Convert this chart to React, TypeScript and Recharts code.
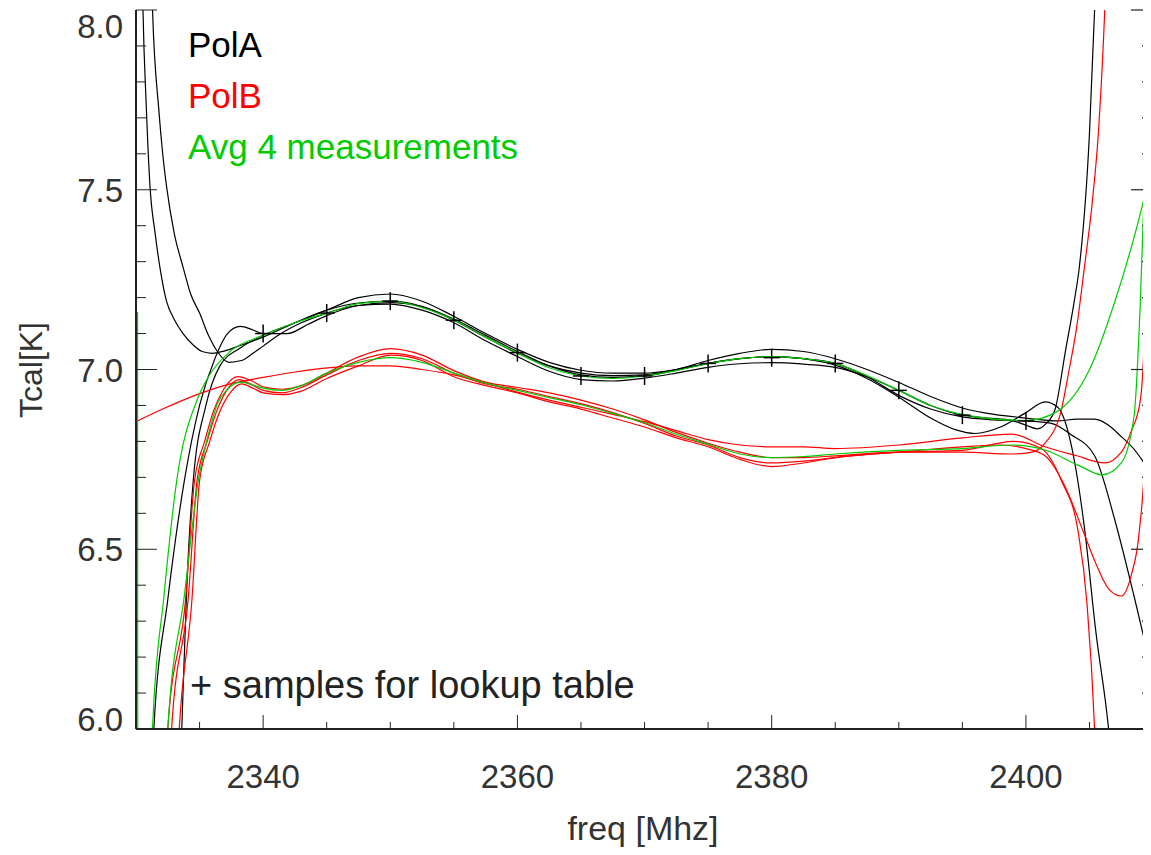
import { ComposedChart, Line, Scatter, XAxis, YAxis } from 'recharts'

type Pt = [number, number]

// frequency ticks every 5 MHz (labels every 20), Tcal ticks every 0.1 K (labels every 0.5)
// the original frame is cut just short of 2410 MHz on the right
const freqDomain = [2330, 2409.6]
const freqTicks = [2330, 2335, 2340, 2345, 2350, 2355, 2360, 2365, 2370, 2375, 2380, 2385, 2390, 2395, 2400, 2405]
const tcalTicks = [6.0, 6.1, 6.2, 6.3, 6.4, 6.5, 6.6, 6.7, 6.8, 6.9, 7.0, 7.1, 7.2, 7.3, 7.4, 7.5, 7.6, 7.7, 7.8, 7.9, 8.0]
const freqLabels = [2340, 2360, 2380, 2400]
const tcalLabels = [6.0, 6.5, 7.0, 7.5, 8.0]

// PolA, 4 measurements
const polA1: Pt[] = [[2330.3, 8.6], [2330.55, 8.0], [2330.8, 7.74], [2331.1, 7.51], [2331.5, 7.38], [2331.9, 7.28], [2332.4, 7.19], [2333, 7.14], [2333.7, 7.1], [2334.5, 7.068], [2335.2, 7.05], [2336, 7.045], [2337, 7.052], [2338.3, 7.068], [2340, 7.09], [2342.5, 7.13], [2345, 7.165], [2347.5, 7.185], [2350, 7.19], [2352.5, 7.175], [2355, 7.137], [2357.5, 7.09], [2360, 7.045], [2362.5, 7.01], [2365, 6.99], [2367.5, 6.983], [2370, 6.985], [2372.5, 7.0], [2375, 7.025], [2377.5, 7.045], [2380, 7.056], [2382.5, 7.05], [2385, 7.03], [2387.5, 7.0], [2390, 6.964], [2392.5, 6.925], [2395, 6.893], [2397.5, 6.875], [2400, 6.865], [2402.5, 6.857], [2404, 6.862], [2405.4, 6.862], [2406.5, 6.845], [2407.3, 6.82], [2408.9, 6.76], [2410, 6.69], [2410.5, 6.63]]
const polA2: Pt[] = [[2330.9, 8.6], [2331.3, 8.0], [2331.8, 7.72], [2332.1, 7.6], [2332.4, 7.51], [2333, 7.38], [2333.7, 7.285], [2334.3, 7.21], [2335, 7.157], [2335.7, 7.095], [2336.4, 7.05], [2337.3, 7.02], [2338.3, 7.025], [2339.2, 7.045], [2340, 7.065], [2341.4, 7.1], [2343, 7.13], [2345, 7.157], [2347.5, 7.178], [2350, 7.182], [2352.5, 7.165], [2355, 7.13], [2357.5, 7.08], [2360, 7.036], [2362.5, 6.995], [2365, 6.972], [2367.5, 6.968], [2370, 6.976], [2372.5, 6.99], [2375, 7.006], [2377.5, 7.016], [2380, 7.019], [2382.5, 7.015], [2385, 7.006], [2387.5, 6.98], [2390, 6.942], [2392.5, 6.9], [2395, 6.873], [2397, 6.865], [2398.9, 6.858], [2400, 6.845], [2400.9, 6.835], [2401.6, 6.85], [2402.3, 6.89], [2403.1, 7.05], [2403.8, 7.19], [2404.2, 7.285], [2405, 7.66], [2405.4, 8.0], [2405.8, 8.4]]
const polA3: Pt[] = [[2331.0, 5.7], [2331.4, 6.0], [2332.5, 6.36], [2333.8, 6.69], [2335, 6.9], [2336.2, 7.03], [2337.2, 7.1], [2338.2, 7.12], [2339.2, 7.11], [2340, 7.1], [2341.9, 7.1], [2343.5, 7.125], [2345, 7.15], [2347.5, 7.178], [2350, 7.186], [2352.5, 7.175], [2355, 7.14], [2357.5, 7.095], [2360, 7.05], [2362.5, 7.01], [2365, 6.985], [2367.5, 6.978], [2370, 6.982], [2372.5, 6.998], [2375, 7.017], [2377.5, 7.03], [2380, 7.036], [2382.5, 7.03], [2385, 7.012], [2387.5, 6.975], [2390, 6.923], [2392.5, 6.865], [2394.5, 6.832], [2396, 6.822], [2398, 6.84], [2400, 6.88], [2401.5, 6.91], [2402.5, 6.895], [2403.5, 6.8], [2404.6, 6.56], [2405.5, 6.27], [2406.5, 6.0], [2407, 5.8]]
const polA4: Pt[] = [[2333.3, 5.7], [2333.6, 6.0], [2334, 6.4], [2334.5, 6.69], [2335.5, 6.9], [2336.6, 7.01], [2338.2, 7.06], [2340, 7.095], [2342.5, 7.13], [2345, 7.165], [2347.5, 7.2], [2350, 7.21], [2352.5, 7.19], [2355, 7.148], [2357.5, 7.1], [2360, 7.056], [2362.5, 7.02], [2365, 6.998], [2367.5, 6.99], [2370, 6.99], [2372.5, 7.0], [2375, 7.017], [2377.5, 7.03], [2380, 7.036], [2382.5, 7.03], [2385, 7.017], [2387.5, 6.98], [2390, 6.928], [2392.5, 6.89], [2395, 6.868], [2397.5, 6.86], [2400, 6.857], [2402, 6.85], [2403.5, 6.82], [2405.4, 6.76], [2407, 6.58], [2408.5, 6.37], [2410, 6.145], [2410.5, 6.07]]

// PolB, 4 measurements
const polB1: Pt[] = [[2330, 6.855], [2332.1, 6.89], [2334.8, 6.93], [2337.4, 6.96], [2340, 6.978], [2342.5, 6.993], [2345.3, 7.005], [2347.5, 7.01], [2350, 7.01], [2352.5, 7.0], [2355, 6.985], [2357.5, 6.962], [2360, 6.937], [2362.5, 6.915], [2365, 6.895], [2367.5, 6.875], [2370, 6.855], [2372.5, 6.83], [2375, 6.805], [2377.5, 6.79], [2380, 6.785], [2382.5, 6.785], [2385, 6.78], [2390, 6.79], [2395, 6.81], [2398.9, 6.82], [2401.5, 6.785], [2404, 6.76], [2406.2, 6.74], [2407.5, 6.77], [2408.3, 6.83], [2409, 6.915], [2409.4, 7.19], [2409.8, 8.0], [2410, 8.5]]
const polB2: Pt[] = [[2332.2, 5.8], [2332.5, 6.0], [2333.9, 6.36], [2334.6, 6.69], [2335.4, 6.8], [2336.1, 6.885], [2336.9, 6.945], [2338, 6.98], [2339, 6.97], [2340, 6.952], [2341.5, 6.945], [2343, 6.955], [2345, 6.99], [2347.5, 7.035], [2350, 7.058], [2352.5, 7.04], [2355, 6.997], [2357.5, 6.965], [2360, 6.95], [2362.5, 6.935], [2365, 6.915], [2367.5, 6.89], [2370, 6.86], [2372.5, 6.825], [2375, 6.795], [2377.5, 6.77], [2380, 6.755], [2382.5, 6.755], [2385, 6.76], [2390, 6.77], [2395, 6.77], [2398.9, 6.765], [2400.5, 6.77], [2401.5, 6.795], [2402.8, 6.89], [2403.4, 7.0], [2404, 7.12], [2404.6, 7.285], [2405.2, 7.46], [2405.7, 7.66], [2406.2, 8.0], [2406.5, 8.3]]
const polB3: Pt[] = [[2332.5, 5.8], [2332.8, 6.0], [2334.1, 6.36], [2334.8, 6.69], [2335.6, 6.8], [2336.3, 6.88], [2337.1, 6.94], [2338.1, 6.972], [2339, 6.96], [2340, 6.942], [2341.5, 6.935], [2343, 6.95], [2345, 6.985], [2347.5, 7.025], [2350, 7.045], [2352.5, 7.03], [2355, 6.99], [2357.5, 6.96], [2360, 6.945], [2362.5, 6.925], [2365, 6.905], [2367.5, 6.88], [2370, 6.85], [2372.5, 6.815], [2375, 6.79], [2377.5, 6.755], [2380, 6.74], [2382.5, 6.745], [2385, 6.755], [2390, 6.77], [2395, 6.775], [2399, 6.8], [2401.2, 6.78], [2402.8, 6.69], [2404.1, 6.55], [2404.8, 6.35], [2405.4, 6.0], [2405.7, 5.7]]
const polB4: Pt[] = [[2333.1, 5.8], [2333.4, 6.0], [2334.4, 6.36], [2335, 6.69], [2335.8, 6.8], [2336.5, 6.875], [2337.3, 6.93], [2338.3, 6.96], [2339.2, 6.948], [2340, 6.935], [2341.5, 6.93], [2343, 6.94], [2345, 6.975], [2347.5, 7.01], [2350, 7.04], [2352.5, 7.025], [2355, 6.98], [2357.5, 6.955], [2360, 6.935], [2362.5, 6.91], [2365, 6.89], [2367.5, 6.865], [2370, 6.84], [2372.5, 6.81], [2375, 6.785], [2377.5, 6.75], [2380, 6.73], [2382.5, 6.74], [2385, 6.755], [2390, 6.77], [2395, 6.785], [2398, 6.79], [2400, 6.78], [2401.5, 6.76], [2403, 6.68], [2404.5, 6.55], [2405.5, 6.46], [2406.5, 6.39], [2407.5, 6.37], [2408.3, 6.43], [2408.9, 6.545], [2409.4, 6.8], [2409.7, 7.2], [2410, 7.9], [2410.2, 8.5]]

// averages of the 4 measurements
const avgA: Pt[] = [[2330.12, 7.16], [2330.16, 5.0], [2330.8, 5.4], [2331.3, 6.0], [2332.2, 6.37], [2333.2, 6.69], [2334.8, 6.915], [2335.7, 6.98], [2337.4, 7.05], [2340, 7.095], [2342.5, 7.13], [2345.3, 7.16], [2347.5, 7.183], [2350, 7.19], [2352.5, 7.172], [2355, 7.138], [2357.5, 7.09], [2360, 7.046], [2362.5, 7.005], [2365, 6.982], [2367.5, 6.975], [2370, 6.982], [2372.5, 6.997], [2375, 7.016], [2377.5, 7.03], [2380, 7.036], [2382.5, 7.03], [2385, 7.017], [2387.5, 6.983], [2390, 6.942], [2392.5, 6.9], [2395, 6.875], [2397.5, 6.862], [2400, 6.858], [2402.3, 6.88], [2405, 7.0], [2407, 7.19], [2408.6, 7.38], [2410, 7.58]]
const avgB: Pt[] = [[2332.2, 5.8], [2332.5, 6.0], [2333.8, 6.37], [2334.9, 6.69], [2335.7, 6.82], [2336.4, 6.905], [2337.2, 6.945], [2338.2, 6.965], [2339.2, 6.957], [2340, 6.948], [2341.5, 6.942], [2343, 6.955], [2345, 6.99], [2347.5, 7.02], [2350, 7.033], [2352.5, 7.02], [2355, 6.99], [2357.5, 6.962], [2360, 6.942], [2362.5, 6.922], [2365, 6.902], [2367.5, 6.878], [2370, 6.852], [2372.5, 6.82], [2375, 6.792], [2377.5, 6.765], [2380, 6.755], [2382.5, 6.758], [2385, 6.765], [2390, 6.775], [2395, 6.78], [2398.9, 6.79], [2401.5, 6.776], [2404.1, 6.734], [2406, 6.707], [2407.5, 6.74], [2408.5, 6.87], [2409, 7.19], [2409.4, 7.6], [2409.7, 8.0], [2410, 8.4]]

// samples for lookup table
const sampleFreq = [2340, 2345, 2350, 2355, 2360, 2365, 2370, 2375, 2380, 2385, 2390, 2395, 2400]
const sampleTcal = [7.1, 7.157, 7.19, 7.137, 7.047, 6.982, 6.982, 7.017, 7.033, 7.017, 6.942, 6.873, 6.857]

const BLACK = '#000000'
const RED = '#ff0000'
const GREEN = '#00cc00'
const AXIS = '#222222'
const LABEL = '#333333'
const FONT = '"Liberation Sans", Arial, Helvetica, sans-serif'

const toRows = (pts: Pt[]) => pts.map(([f, t]) => ({ f, t }))
const samples = sampleFreq.map((f, i) => ({ f, t: sampleTcal[i] }))

const series = [
  { name: 'polA1', pts: polA1, color: BLACK },
  { name: 'polA2', pts: polA2, color: BLACK },
  { name: 'polA3', pts: polA3, color: BLACK },
  { name: 'polA4', pts: polA4, color: BLACK },
  { name: 'polB1', pts: polB1, color: RED },
  { name: 'polB2', pts: polB2, color: RED },
  { name: 'polB3', pts: polB3, color: RED },
  { name: 'polB4', pts: polB4, color: RED },
  { name: 'avgA', pts: avgA, color: GREEN },
  { name: 'avgB', pts: avgB, color: GREEN },
]

const isLabel = (v: number, list: number[]) => list.some((l) => Math.abs(l - v) < 1e-6)

const BottomTick = ({ x, y, payload }: any) => {
  const major = isLabel(payload.value, freqLabels)
  return (
    <g>
      <line x1={x} x2={x} y1={y} y2={y - (major ? 14 : 7)} stroke={AXIS} strokeWidth={1} />
      {major && (
        <text x={x} y={y + 59} textAnchor="middle" fontSize={33} fill={LABEL} fontFamily={FONT}>
          {payload.value}
        </text>
      )}
    </g>
  )
}

const TopTick = ({ x, y, payload }: any) => {
  const major = isLabel(payload.value, freqLabels)
  return <line x1={x} x2={x} y1={y} y2={y + (major ? 14 : 7)} stroke={AXIS} strokeWidth={1} />
}

const LeftTick = ({ x, y, payload }: any) => {
  const v: number = payload.value
  const major = isLabel(v, tcalLabels)
  // end labels are pulled inside the frame, like the original plot
  const dy = Math.abs(v - 8) < 1e-6 ? 28 : Math.abs(v - 6) < 1e-6 ? 2 : 12
  return (
    <g>
      <line x1={x} x2={x + (major ? 21 : 10)} y1={y} y2={y} stroke={AXIS} strokeWidth={1} />
      {major && (
        <text x={x - 13} y={y + dy} textAnchor="end" fontSize={33} fill={LABEL} fontFamily={FONT}>
          {v.toFixed(1)}
        </text>
      )}
    </g>
  )
}

const RightTick = ({ x, y, payload }: any) => {
  const major = isLabel(payload.value, tcalLabels)
  return <line x1={x + 3} x2={x - (major ? 17 : 6)} y1={y} y2={y} stroke={AXIS} strokeWidth={1.2} />
}

const Cross = ({ cx, cy }: any) => (
  <g stroke={BLACK} strokeWidth={1.5}>
    <line x1={cx - 8} x2={cx + 8} y1={cy} y2={cy} />
    <line x1={cx} x2={cx} y1={cy - 9} y2={cy + 9} />
  </g>
)

export default function App() {
  return (
    <div style={{ width: 1143, height: 847, position: 'relative', marginBottom: -8 }}>
      <ComposedChart width={1143} height={847} margin={{ top: 2, right: 1, bottom: 0, left: 0 }}>
        <XAxis
          dataKey="f"
          type="number"
          domain={freqDomain}
          ticks={freqTicks}
          interval={0}
          allowDataOverflow
          height={126}
          tickSize={0}
          tickMargin={0}
          tickLine={false}
          tick={<BottomTick />}
          axisLine={{ stroke: AXIS, strokeWidth: 2 }}
        />
        <XAxis
          xAxisId="top"
          orientation="top"
          dataKey="f"
          type="number"
          domain={freqDomain}
          ticks={freqTicks}
          interval={0}
          allowDataOverflow
          height={0}
          tickSize={0}
          tickMargin={0}
          tickLine={false}
          tick={<TopTick />}
          axisLine={{ stroke: AXIS, strokeWidth: 2 }}
        />
        <YAxis
          dataKey="t"
          type="number"
          domain={[6, 8]}
          ticks={tcalTicks}
          interval={0}
          allowDataOverflow
          width={128}
          tickSize={0}
          tickMargin={0}
          tickLine={false}
          tick={<LeftTick />}
          axisLine={{ stroke: AXIS, strokeWidth: 2 }}
        />
        <YAxis
          yAxisId="right"
          orientation="right"
          dataKey="t"
          type="number"
          domain={[6, 8]}
          ticks={tcalTicks}
          interval={0}
          allowDataOverflow
          width={2}
          tickSize={0}
          tickMargin={0}
          tickLine={false}
          tick={<RightTick />}
          axisLine={false}
        />
        {series.map((s) => (
          <Line
            key={s.name}
            data={toRows(s.pts)}
            dataKey="t"
            type="monotone"
            stroke={s.color}
            strokeWidth={1.2}
            dot={false}
            activeDot={false}
            isAnimationActive={false}
          />
        ))}
        <Scatter data={samples} dataKey="t" shape={<Cross />} isAnimationActive={false} />
      </ComposedChart>
      <svg
        width={1143}
        height={847}
        style={{ position: 'absolute', left: 0, top: 0, pointerEvents: 'none' }}
        fontFamily={FONT}
      >
        <text x={180} y={49} fontSize={35} fill={BLACK}>PolA</text>
        <text x={180} y={100} fontSize={35} fill={RED}>PolB</text>
        <text x={180} y={151} fontSize={35} fill={GREEN}>Avg 4 measurements</text>
        <text x={182} y={690} fontSize={38} fill={'#222'}>+ samples for lookup table</text>
        <text x={635} y={832} fontSize={34} fill={LABEL} textAnchor="middle">freq [Mhz]</text>
        <text x={34} y={362} fontSize={32} fill={LABEL} textAnchor="middle" transform="rotate(-90 34 362)">
          Tcal[K]
        </text>
      </svg>
    </div>
  )
}
